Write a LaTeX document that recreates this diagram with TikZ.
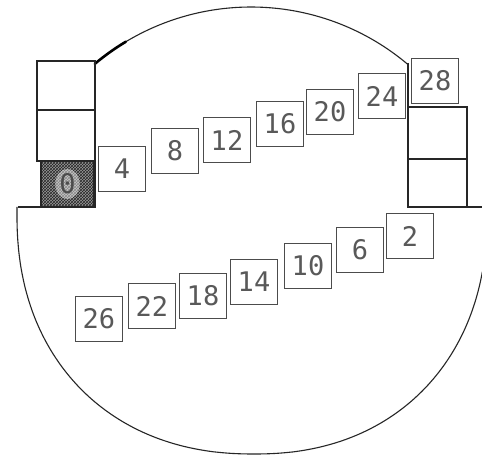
\documentclass[tikz,border=0pt]{standalone}
\usepackage{fontspec}
\newfontfamily\digitfont{DejaVu Sans Mono}
\usetikzlibrary{patterns,shapes.geometric}
\begin{document}
\begin{tikzpicture}[x=1pt,y=-1pt,
  numbox/.style={draw=black!70, line width=0.9pt, minimum width=47pt, minimum height=45pt, inner sep=0pt, font=\digitfont\fontsize{27}{27}\selectfont, text=black!65},
  frameline/.style={line width=1.1pt, draw=black!85},
  stackbox/.style={line width=1.1pt, draw=black!85}]
\useasboundingbox[fill=white] (0,0) rectangle (482,457);
% upper arc
\draw[frameline] plot[domain=130:49.8, samples=80] ({251+243*cos(\x)}, {250-243*sin(\x)});
\draw[line width=2.6pt, line cap=round, black] plot[domain=130:121, samples=20] ({251+243*cos(\x)}, {250-243*sin(\x)});
% lower curve (slightly squared circle)
\draw[frameline] plot[domain=181.2:90, samples=90] ({254-237*pow(abs(cos(\x))+0.0001,0.909)}, {214+240*sin(\x)*pow(abs(sin(\x))+0.0001,-0.091)})
  -- plot[domain=90:12, samples=80] ({254+233*pow(abs(cos(\x))+0.0001,0.909)}, {214+240*sin(\x)*pow(abs(sin(\x))+0.0001,-0.091)});
% left stack
\draw[stackbox] (37,61) rectangle (95,110);
\draw[stackbox] (37,110) rectangle (95,161);
\fill[black!40] (41,161) rectangle (94,207);
\fill[pattern=crosshatch, pattern color=black!85] (41,161) rectangle (94,207);
\draw[stackbox] (41,161) rectangle (94,207);
\node[ellipse, fill=white, fill opacity=0.45, text opacity=1, inner sep=0.5pt, font=\digitfont\fontsize{27}{27}\selectfont, text=black!70] (n0) at (67.5,184) {0};
\draw[frameline] (18,207) -- (95,207) -- (95,64);
% right stack
\draw[frameline] (408,63) -- (408,207) -- (482,207);
\draw[stackbox] (408,107) rectangle (467,159);
\draw[stackbox] (408,159) rectangle (467,207);
% numbered boxes, upper row
\node[numbox] (n4) at (122,169) {4};
\node[numbox] (n8) at (175,151) {8};
\node[numbox] (n12) at (227,140) {12};
\node[numbox] (n16) at (280,124) {16};
\node[numbox] (n20) at (330,112) {20};
\node[numbox] (n24) at (382,96) {24};
\node[numbox] (n28) at (435,81) {28};
% lower row
\node[numbox] (n2) at (410,236) {2};
\node[numbox] (n6) at (360,250) {6};
\node[numbox] (n10) at (308,266) {10};
\node[numbox] (n14) at (254,282) {14};
\node[numbox] (n18) at (203,296) {18};
\node[numbox] (n22) at (152,306) {22};
\node[numbox] (n26) at (99,319) {26};
\end{tikzpicture}
\end{document}
